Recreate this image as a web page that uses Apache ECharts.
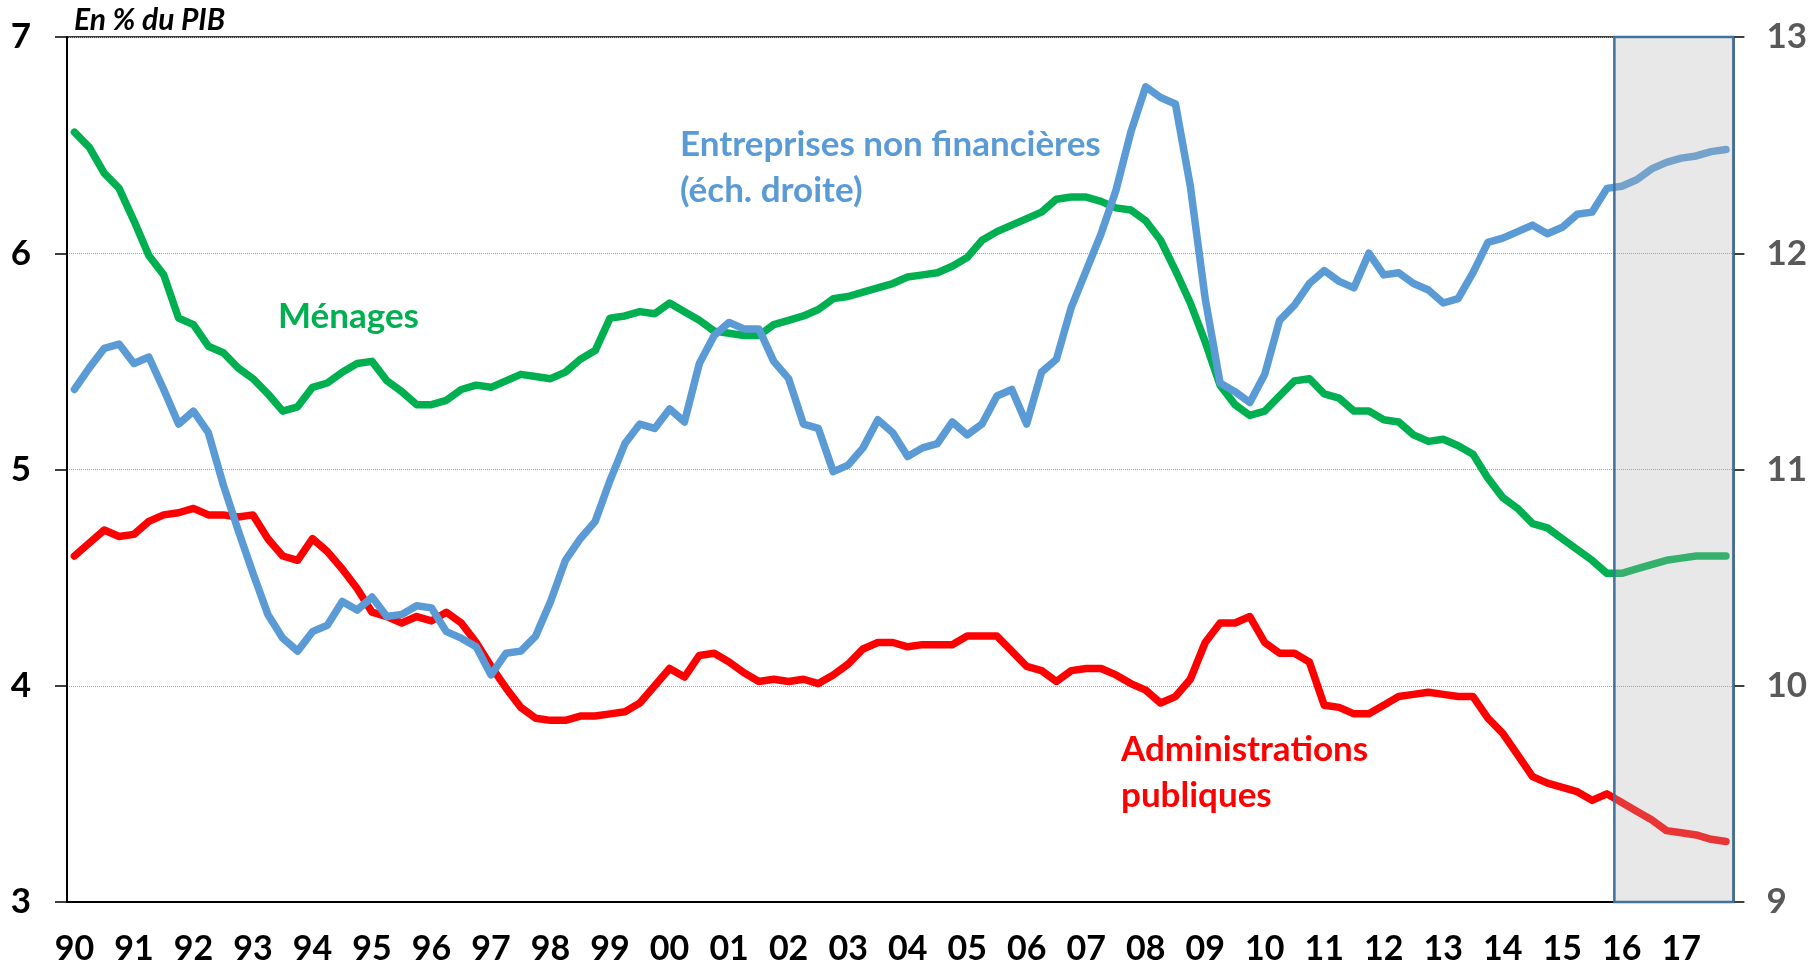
<!DOCTYPE html>
<html>
<head>
<meta charset="utf-8">
<script src="https://cdn.jsdelivr.net/npm/echarts@6/dist/echarts.min.js"></script>
<style>
  html, body { margin: 0; padding: 0; background: #fff; }
  #chart { width: 1810px; height: 966px; }
</style>
</head>
<body>
<div id="chart"></div>
<script>
// years shown on the axis, one category per quarter
var years = ['90', '91', '92', '93', '94', '95', '96', '97', '98', '99',
  '00', '01', '02', '03', '04', '05', '06', '07', '08', '09',
  '10', '11', '12', '13', '14', '15', '16', '17'];

var categories = [];
years.forEach(function (y) {
  for (var q = 1; q <= 4; q++) categories.push(y + 'T' + q);
});

// left scale, % du PIB
var menages = [
  6.56, 6.49, 6.37, 6.30, 6.15, 5.99, 5.90, 5.70, 5.67, 5.57,
  5.54, 5.47, 5.42, 5.35, 5.27, 5.29, 5.38, 5.40, 5.45, 5.49,
  5.50, 5.41, 5.36, 5.30, 5.30, 5.32, 5.37, 5.39, 5.38, 5.41,
  5.44, 5.43, 5.42, 5.45, 5.51, 5.55, 5.70, 5.71, 5.73, 5.72,
  5.77, 5.73, 5.69, 5.64, 5.63, 5.62, 5.62, 5.67, 5.69, 5.71,
  5.74, 5.79, 5.80, 5.82, 5.84, 5.86, 5.89, 5.90, 5.91, 5.94,
  5.98, 6.06, 6.10, 6.13, 6.16, 6.19, 6.25, 6.26, 6.26, 6.24,
  6.21, 6.20, 6.15, 6.06, 5.92, 5.77, 5.59, 5.39, 5.30, 5.25,
  5.27, 5.34, 5.41, 5.42, 5.35, 5.33, 5.27, 5.27, 5.23, 5.22,
  5.16, 5.13, 5.14, 5.11, 5.07, 4.96, 4.87, 4.82, 4.75, 4.73,
  4.68, 4.63, 4.58, 4.52, 4.52, 4.54, 4.56, 4.58, 4.59, 4.60,
  4.60, 4.60
];

var apu = [
  4.60, 4.66, 4.72, 4.69, 4.70, 4.76, 4.79, 4.80, 4.82, 4.79,
  4.79, 4.78, 4.79, 4.68, 4.60, 4.58, 4.68, 4.62, 4.54, 4.45,
  4.34, 4.32, 4.29, 4.32, 4.30, 4.34, 4.29, 4.20, 4.09, 3.99,
  3.90, 3.85, 3.84, 3.84, 3.86, 3.86, 3.87, 3.88, 3.92, 4.00,
  4.08, 4.04, 4.14, 4.15, 4.11, 4.06, 4.02, 4.03, 4.02, 4.03,
  4.01, 4.05, 4.10, 4.17, 4.20, 4.20, 4.18, 4.19, 4.19, 4.19,
  4.23, 4.23, 4.23, 4.16, 4.09, 4.07, 4.02, 4.07, 4.08, 4.08,
  4.05, 4.01, 3.98, 3.92, 3.95, 4.03, 4.20, 4.29, 4.29, 4.32,
  4.20, 4.15, 4.15, 4.11, 3.91, 3.90, 3.87, 3.87, 3.91, 3.95,
  3.96, 3.97, 3.96, 3.95, 3.95, 3.85, 3.78, 3.68, 3.58, 3.55,
  3.53, 3.51, 3.47, 3.50, 3.46, 3.42, 3.38, 3.33, 3.32, 3.31,
  3.29, 3.28
];

// right scale
var snf = [
  11.37, 11.47, 11.56, 11.58, 11.49, 11.52, 11.37, 11.21, 11.27, 11.17,
  10.93, 10.72, 10.52, 10.33, 10.22, 10.16, 10.25, 10.28, 10.39, 10.35,
  10.41, 10.32, 10.33, 10.37, 10.36, 10.25, 10.22, 10.18, 10.05, 10.15,
  10.16, 10.23, 10.39, 10.58, 10.68, 10.76, 10.95, 11.12, 11.21, 11.19,
  11.28, 11.22, 11.49, 11.62, 11.68, 11.65, 11.65, 11.50, 11.42, 11.21,
  11.19, 10.99, 11.02, 11.10, 11.23, 11.17, 11.06, 11.10, 11.12, 11.22,
  11.16, 11.21, 11.34, 11.37, 11.21, 11.45, 11.51, 11.75, 11.92, 12.09,
  12.29, 12.56, 12.77, 12.72, 12.69, 12.31, 11.79, 11.40, 11.36, 11.31,
  11.44, 11.69, 11.76, 11.86, 11.92, 11.87, 11.84, 12.00, 11.90, 11.91,
  11.86, 11.83, 11.77, 11.79, 11.91, 12.05, 12.07, 12.10, 12.13, 12.09,
  12.12, 12.18, 12.19, 12.30, 12.31, 12.34, 12.39, 12.42, 12.44, 12.45,
  12.47, 12.48
];

// forecast zone, in quarter positions (2016T1 to the end)
var forecastStart = 104;
var forecastEnd = 112;

var font = 'Lato, "Open Sans", sans-serif';

var chart = echarts.init(document.getElementById('chart'));

var option = {
  animation: false,
  grid: {
    left: 67, right: 76, top: 37, bottom: 63,
    show: true, borderColor: '#000', borderWidth: 1.5
  },
  xAxis: [{
    type: 'category',
    data: categories,
    boundaryGap: true,
    axisLine: { lineStyle: { color: '#000', width: 2 } },
    axisTick: { interval: 3, length: 11, lineStyle: { color: '#000', width: 2 } },
    axisLabel: {
      interval: 3, margin: 30,
      fontFamily: font, fontWeight: 'bold', fontSize: 34, color: '#000',
      formatter: function (v) { return v.slice(0, 2); }
    },
    splitLine: { show: false }
  }, {
    type: 'value', min: 0, max: 112, show: false
  }],
  yAxis: [{
    type: 'value', min: 3, max: 7, interval: 1,
    axisLine: { show: true, lineStyle: { color: '#000', width: 2 } },
    axisTick: { show: true, length: 12, lineStyle: { color: '#000', width: 1.5 } },
    axisLabel: { margin: 36, fontFamily: font, fontWeight: 'bold', fontSize: 35, color: '#000' },
    splitLine: { lineStyle: { color: '#a0a0a0', type: 'dotted', width: 1 } }
  }, {
    type: 'value', min: 9, max: 13, interval: 1,
    axisLine: { show: true, lineStyle: { color: '#404040', width: 1.5 } },
    axisTick: { show: true, length: 11, lineStyle: { color: '#000', width: 1.5 } },
    axisLabel: { margin: 33, fontFamily: font, fontWeight: 'bold', fontSize: 35, color: '#595959' },
    splitLine: { show: false }
  }],
  series: [{
    name: 'Ménages', type: 'line', data: menages,
    symbol: 'none', lineStyle: { color: '#00b050', width: 7.5, join: 'round', cap: 'round' }
  }, {
    name: 'Administrations publiques', type: 'line', data: apu,
    symbol: 'none', lineStyle: { color: '#ff0000', width: 7.5, join: 'round', cap: 'round' }
  }, {
    name: 'Entreprises non financières', type: 'line', data: snf, yAxisIndex: 1,
    symbol: 'none', lineStyle: { color: '#5b9bd5', width: 7.5, join: 'round', cap: 'round' }
  }, {
    // grey forecast box drawn over the lines, so they look paler inside it
    name: 'prévision', type: 'line', xAxisIndex: 1, yAxisIndex: 0, z: 10,
    data: [[forecastStart, 3]], symbol: 'none', lineStyle: { opacity: 0 },
    markArea: {
      silent: true, z: 10,
      itemStyle: { color: 'rgba(180,180,180,0.3)', borderColor: '#41719c', borderWidth: 2.5 },
      data: [[{ coord: [forecastStart, 3] }, { coord: [forecastEnd, 7] }]]
    }
  }],
  graphic: [{
    type: 'text', left: 74, top: 5,
    style: { text: 'En % du PIB', fontFamily: font, fontWeight: 'bold', fontStyle: 'italic', fontSize: 30, fill: '#000' }
  }, {
    type: 'text', left: 278, top: 299,
    style: { text: 'Ménages', fontFamily: font, fontWeight: 'bold', fontSize: 35, fill: '#00b050' }
  }, {
    type: 'text', left: 680, top: 122,
    style: { text: 'Entreprises non financières\n(éch. droite)', lineHeight: 46, fontFamily: font, fontWeight: 'bold', fontSize: 35, fill: '#5b9bd5' }
  }, {
    type: 'text', left: 1121, top: 727,
    style: { text: 'Administrations\npubliques', lineHeight: 46, fontFamily: font, fontWeight: 'bold', fontSize: 35, fill: '#ff0000' }
  }]
};

chart.setOption(option);
</script>
</body>
</html>
